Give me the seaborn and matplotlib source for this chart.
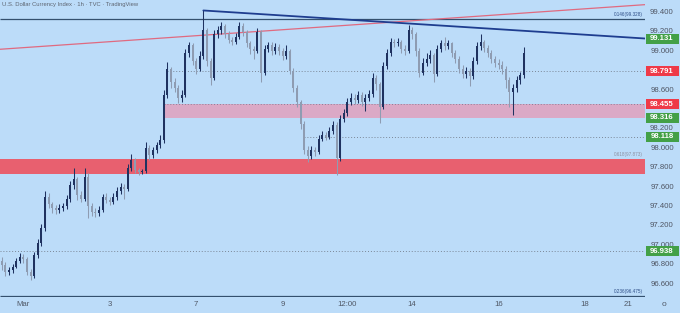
import numpy as np
import pandas as pd
import seaborn as sns
import matplotlib
matplotlib.use("Agg")
import matplotlib.pyplot as plt
from matplotlib.patches import Rectangle

# ---------------- data (2-hour candles, U.S. Dollar Currency Index) ----------------
first_open = 96.84
closes = [96.80, 96.72, 96.74, 96.78, 96.84, 96.88, 96.86, 96.72, 96.68, 96.90,
          97.02, 97.18, 97.50, 97.42, 97.38, 97.36, 97.38, 97.40, 97.48, 97.62,
          97.68, 97.52, 97.48, 97.70, 97.40, 97.34, 97.33, 97.36, 97.50, 97.47,
          97.45, 97.50, 97.56, 97.60, 97.58, 97.80, 97.88, 97.78, 97.75, 97.76,
          98.00, 97.93, 97.98, 98.03, 98.08, 98.55, 98.82, 98.68, 98.62, 98.52,
          98.55, 98.98, 99.06, 98.90, 98.82, 98.95, 99.22, 98.90, 98.72, 99.18,
          99.22, 99.26, 99.18, 99.12, 99.10, 99.15, 99.26, 99.20, 99.08, 99.02,
          99.00, 99.20, 98.78, 99.02, 99.06, 99.00, 99.04, 99.00, 98.95, 99.00,
          98.80, 98.62, 98.48, 98.25, 97.98, 97.92, 97.98, 97.96, 98.10, 98.14,
          98.12, 98.18, 98.24, 97.90, 98.30, 98.36, 98.48, 98.52, 98.50, 98.55,
          98.48, 98.52, 98.56, 98.72, 98.66, 98.42, 98.85, 98.98, 99.10, 99.08,
          99.10, 99.02, 99.00, 99.22, 99.18, 99.00, 98.78, 98.88, 98.92, 98.96,
          98.76, 99.02, 99.08, 99.05, 99.08, 98.98, 98.92, 98.82, 98.76, 98.80,
          98.74, 98.90, 99.05, 99.10, 99.03, 98.98, 98.92, 98.88, 98.86, 98.82,
          98.70, 98.58, 98.62, 98.70, 98.75, 98.98]
highs = [96.88, 96.83, 96.78, 96.81, 96.87, 96.92, 96.91, 96.88, 96.75, 96.93,
         97.06, 97.22, 97.56, 97.54, 97.45, 97.41, 97.42, 97.44, 97.52, 97.66,
         97.80, 97.70, 97.56, 97.80, 97.74, 97.44, 97.38, 97.40, 97.53, 97.54,
         97.50, 97.54, 97.60, 97.64, 97.63, 97.84, 97.94, 97.90, 97.80, 97.79,
         98.06, 98.03, 98.01, 98.06, 98.14, 98.60, 98.89, 98.84, 98.72, 98.65,
         98.60, 99.02, 99.10, 99.08, 98.93, 99.00, 99.42, 99.24, 98.93, 99.22,
         99.26, 99.30, 99.28, 99.21, 99.15, 99.19, 99.30, 99.29, 99.22, 99.11,
         99.05, 99.24, 99.22, 99.06, 99.10, 99.09, 99.08, 99.07, 99.03, 99.06,
         99.02, 98.83, 98.65, 98.50, 98.28, 98.02, 98.02, 98.01, 98.14, 98.18,
         98.17, 98.22, 98.28, 98.27, 98.34, 98.40, 98.52, 98.57, 98.56, 98.59,
         98.58, 98.56, 98.60, 98.78, 98.75, 98.68, 98.89, 99.02, 99.14, 99.13,
         99.14, 99.12, 99.06, 99.27, 99.25, 99.20, 99.03, 98.93, 98.98, 99.01,
         98.98, 99.06, 99.12, 99.15, 99.12, 99.10, 99.01, 98.95, 98.86, 98.84,
         98.83, 98.94, 99.09, 99.18, 99.12, 99.06, 99.01, 98.95, 98.92, 98.90,
         98.85, 98.73, 98.66, 98.74, 98.79, 99.04]
lows = [96.74, 96.68, 96.69, 96.71, 96.76, 96.82, 96.82, 96.69, 96.64, 96.66,
        96.87, 96.99, 97.15, 97.38, 97.33, 97.32, 97.33, 97.35, 97.37, 97.45,
        97.58, 97.47, 97.45, 97.46, 97.28, 97.30, 97.29, 97.30, 97.34, 97.43,
        97.41, 97.42, 97.47, 97.53, 97.48, 97.56, 97.76, 97.74, 97.72, 97.73,
        97.74, 97.88, 97.90, 97.95, 98.00, 98.05, 98.52, 98.62, 98.58, 98.47,
        98.48, 98.53, 98.94, 98.86, 98.76, 98.80, 98.92, 98.85, 98.65, 98.70,
        99.14, 99.18, 99.14, 99.08, 99.06, 99.07, 99.13, 99.16, 99.04, 98.97,
        98.92, 98.98, 98.68, 98.75, 98.99, 98.96, 98.97, 98.96, 98.91, 98.92,
        98.76, 98.58, 98.43, 98.20, 97.94, 97.86, 97.89, 97.92, 97.94, 98.07,
        98.08, 98.09, 98.15, 97.72, 97.87, 98.27, 98.33, 98.45, 98.46, 98.47,
        98.44, 98.38, 98.49, 98.53, 98.60, 98.26, 98.40, 98.82, 98.95, 99.04,
        99.05, 98.98, 98.96, 98.98, 99.13, 98.95, 98.73, 98.75, 98.85, 98.88,
        98.68, 98.74, 98.99, 99.01, 99.02, 98.94, 98.88, 98.78, 98.72, 98.72,
        98.64, 98.71, 98.87, 99.01, 98.99, 98.94, 98.88, 98.84, 98.82, 98.77,
        98.62, 98.42, 98.34, 98.58, 98.66, 98.72]

# time axis (candle index of each label)
tick_pos = [6, 30, 54, 78, 96, 114, 138, 162, 174]
tick_labels = ["Mar", "3", "7", "9", "12:00", "14", "16", "18", "21"]

# price scale labels (98.800 and 98.400 sit behind the level boxes)
price_ticks = [99.4, 99.2, 99.0, 98.6, 98.2, 98.0, 97.8, 97.6, 97.4, 97.2, 97.0, 96.8, 96.6]

# drawings
red_trend_t = [-0.5, 178.7]
red_trend_p = [99.02, 99.48]
blue_trend_t = [56, 178.7]
blue_trend_p = [99.42, 99.131]
fib_levels = [99.328, 96.475]
fib_texts = ["0.146(99.328)", "0.236(96.475)"]
fib_mid_text = "0.618(97.873)"
red_zone = (97.73, 97.89)
pink_zone = (98.316, 98.455)
pink_zone_start = 45
dotted_levels = [98.791, 98.118, 96.938]
dotted_starts = [46, 84, -0.5]
box_levels = [99.131, 98.791, 98.455, 98.316, 98.118, 96.938]
box_kinds = ["g", "r", "r", "g", "g", "g"]

# ---------------- figure ----------------
BG = "#bcdcf9"
sns.set_theme(style="white")
plt.rcParams["font.family"] = ["Liberation Sans", "DejaVu Sans"]

W, H = 680, 313
fig = plt.figure(figsize=(W / 100, H / 100), dpi=100, facecolor=BG)
ax_w_px, ax_h_px = 645, 297
ax = fig.add_axes([0, (H - ax_h_px) / H, ax_w_px / W, ax_h_px / H])
ax.set_facecolor(BG)
xmin, xmax = -0.5, 178.7
ymin, ymax = 96.466, 99.528
ax.set_xlim(xmin, xmax)
ax.set_ylim(ymin, ymax)
for s in ax.spines.values():
    s.set_visible(False)

n = len(closes)
opens = [first_open] + closes[:-1]
df = pd.DataFrame({"t": np.arange(n), "open": opens, "high": highs, "low": lows, "close": closes})
up_col, dn_col = "#1f3260", "#8e9cb2"
df["col"] = np.where(df["close"] >= df["open"], up_col, dn_col)

# zones
ax.axhspan(red_zone[0], red_zone[1], xmin=0, xmax=1, color="#e8606f", lw=0, zorder=1)
ax.add_patch(Rectangle((pink_zone_start, pink_zone[0]), xmax - pink_zone_start,
                       pink_zone[1] - pink_zone[0], color="#dba9c6", lw=0, zorder=1))
ax.hlines(pink_zone[1], pink_zone_start, xmax, colors="#8a7f96", lw=0.7,
          linestyles=(0, (1, 2)), zorder=1.5)

# dotted levels
for lv, st in zip(dotted_levels, dotted_starts):
    ax.hlines(lv, st, xmax, colors="#7b8797", lw=0.7, linestyles=(0, (1, 2)), zorder=1.5)

# fib horizontal lines
for lv, tx in zip(fib_levels, fib_texts):
    ax.hlines(lv, xmin, xmax, colors="#34506e", lw=0.9, zorder=2)
    ax.text(xmax - 0.6, lv + 0.02, tx, fontsize=3.3, color="#2c4c86", ha="right", va="bottom", zorder=3)
ax.text(xmax - 0.6, red_zone[1] + 0.02, fib_mid_text, fontsize=3.3, color="#8c8fa0",
        ha="right", va="bottom", zorder=3)

# trend lines (seaborn)
sns.lineplot(x=red_trend_t, y=red_trend_p, ax=ax, color="#e06a80", lw=0.9, zorder=2)
sns.lineplot(x=blue_trend_t, y=blue_trend_p, ax=ax, color="#1e3d8f", lw=1.3, zorder=4)

# candles
ax.vlines(df["t"], df["low"], df["high"], colors=df["col"], lw=0.75, zorder=3)
body_lo = np.minimum(df["open"], df["close"])
body_h = np.maximum(np.abs(df["close"] - df["open"]), 0.006)
ax.bar(df["t"], body_h, bottom=body_lo, width=0.55, color=df["col"], lw=0, zorder=3)

# header
ax.text(2 / ax_w_px, 1 - 4.5 / ax_h_px, "U.S. Dollar Currency Index · 1h · TVC · TradingView",
        transform=ax.transAxes, fontsize=4.2, color="#5d6470", ha="left", va="center", zorder=5)

# x ticks
ax.set_xticks(tick_pos)
ax.set_xticklabels(tick_labels)
ax.tick_params(axis="x", length=0, pad=3.2, labelsize=5.6, labelcolor="#505866")
ax.set_yticks([])
ax.set_xlabel("")
ax.set_ylabel("")
fig.text(664 / W, 1 - 305 / H, "o", fontsize=6, color="#505866", ha="center", va="center")

# price scale
ytr = ax.get_yaxis_transform()
lab_x = 1 + 17 / ax_w_px
for p in price_ticks:
    ax.text(lab_x, p, f"{p:.3f}", transform=ytr, fontsize=5.6, color="#4f5563",
            ha="center", va="center", clip_on=False, zorder=5)
box_h = 10 / 97
for lv, kind in zip(box_levels, box_kinds):
    c = "#43a047" if kind == "g" else "#ef3a48"
    ax.add_patch(Rectangle((1 + 1 / ax_w_px, lv - box_h / 2), 33 / ax_w_px, box_h, transform=ytr,
                           color=c, lw=0, clip_on=False, zorder=6))
    ax.text(lab_x, lv, f"{lv:.3f}", transform=ytr, fontsize=5.6, color="white", fontweight="bold",
            ha="center", va="center", clip_on=False, zorder=7)

legend = ax.get_legend()
if legend is not None:
    legend.remove()

fig.savefig("out.png", dpi=100, facecolor=BG)
